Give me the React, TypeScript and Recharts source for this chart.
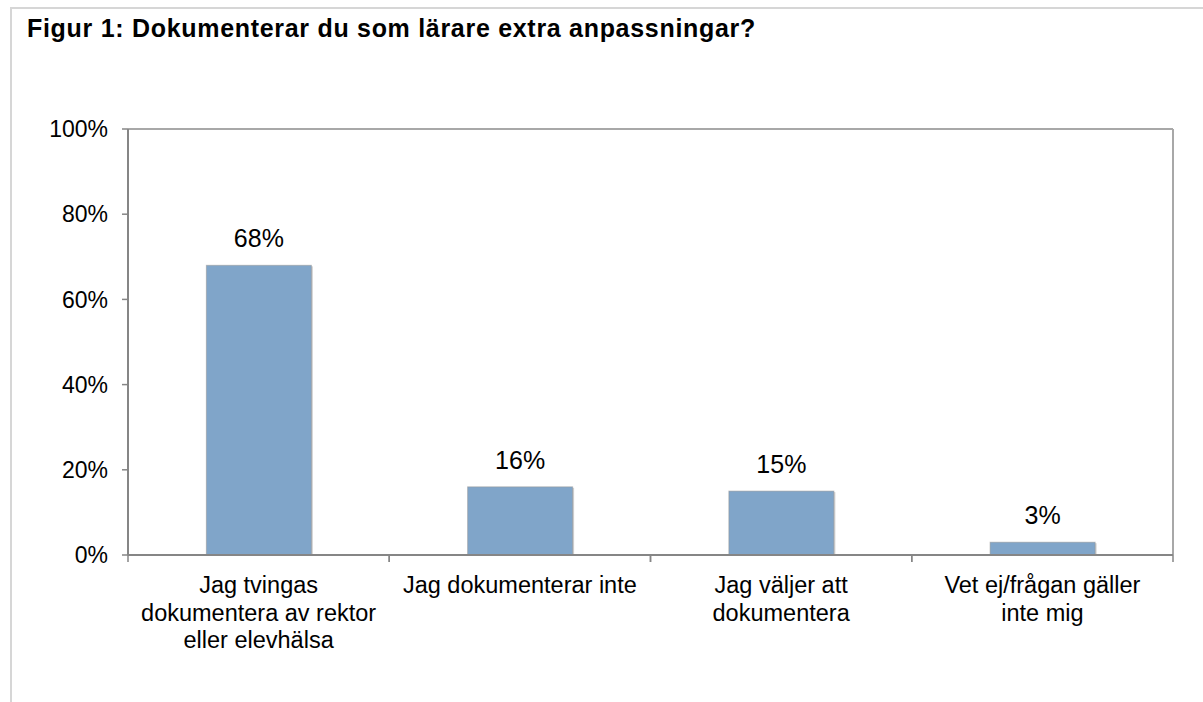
import { BarChart, Bar, XAxis, YAxis, LabelList, CartesianGrid } from "recharts";

const FONT = "'Liberation Sans', Arial, Helvetica, sans-serif";

const title = "Figur 1: Dokumenterar du som lärare extra anpassningar?";
const categories = [
  "Jag tvingas\ndokumentera av rektor\neller elevhälsa",
  "Jag dokumenterar inte",
  "Jag väljer att\ndokumentera",
  "Vet ej/frågan gäller\ninte mig",
];
const percentages = [68, 16, 15, 3];
const yTicks = [0, 20, 40, 60, 80, 100];

const data = categories.map((name, i) => ({ name, value: percentages[i] }));

// category label plus the tick marks on the band edges (Excel style)
function CategoryTick({ x, y, payload }: any) {
  const lines = String(payload.value).split("\n");
  const half = payload.offset || 0;
  return (
    <g>
      <line x1={x - half} x2={x - half} y1={y} y2={y + 7} stroke="#868686" strokeWidth={1.5} />
      <line x1={x + half} x2={x + half} y1={y} y2={y + 7} stroke="#868686" strokeWidth={1.5} />
      <text x={x} y={y} textAnchor="middle" fill="#000" fontSize={23.5} fontFamily={FONT}>
        {lines.map((line, i) => (
          <tspan key={i} x={x} dy={i === 0 ? 38 : 27.5}>
            {line}
          </tspan>
        ))}
      </text>
    </g>
  );
}

function ShadowBar(props: any) {
  const { x, y, width, height, fill } = props;
  if (!height || height <= 0) return null;
  return (
    <g>
      <rect x={x + 1.5} y={y + 1} width={width} height={height} fill="rgba(0,0,0,0.18)" />
      <rect x={x} y={y} width={width} height={height} fill={fill} stroke="rgba(150,150,150,0.55)" strokeWidth={1} />
    </g>
  );
}

export default function App() {
  return (
    <div style={{ position: "absolute", left: 0, top: 0, width: 1203, height: 702, background: "#fff", overflow: "hidden" }}>
      <div
        style={{
          position: "absolute",
          left: 10,
          top: 7,
          width: 1300,
          height: 800,
          borderLeft: "2px solid #d6d6d6",
          borderTop: "2px solid #d6d6d6",
        }}
      />
      <div
        style={{
          position: "absolute",
          left: 27,
          top: 16,
          fontFamily: FONT,
          fontWeight: "bold",
          fontSize: 25,
          letterSpacing: 0.7,
          lineHeight: "25px",
          color: "#000",
          whiteSpace: "nowrap",
        }}
      >
        {title}
      </div>
      <div style={{ position: "absolute", left: 0, top: 0 }}>
        <BarChart
          width={1203}
          height={702}
          data={data}
          margin={{ top: 129, right: 30, bottom: 47, left: 0 }}
          barCategoryGap="30%"
        >
          <CartesianGrid
            stroke="#a8a8a8"
            strokeWidth={2}
            horizontalCoordinatesGenerator={({ offset }: any) => [offset.top]}
            verticalCoordinatesGenerator={({ offset }: any) => [offset.left + offset.width]}
          />
          <XAxis
            dataKey="name"
            height={100}
            axisLine={{ stroke: "#868686", strokeWidth: 2 }}
            tickLine={false}
            tickSize={0}
            tickMargin={0}
            interval={0}
            tick={<CategoryTick />}
          />
          <YAxis
            domain={[0, 100]}
            ticks={yTicks}
            width={128}
            tickFormatter={(v: number) => `${v}%`}
            tick={{ fill: "#000", fontSize: 23, fontFamily: FONT }}
            tickSize={6}
            tickMargin={14}
            axisLine={{ stroke: "#868686", strokeWidth: 2 }}
            tickLine={{ stroke: "#868686", strokeWidth: 1.5 }}
          />
          <Bar dataKey="value" fill="#80a5c9" shape={<ShadowBar />} isAnimationActive={false}>
            <LabelList
              dataKey="value"
              position="top"
              offset={18}
              formatter={(v: any) => `${v}%`}
              fill="#000"
              fontSize={25}
              fontFamily={FONT}
            />
          </Bar>
        </BarChart>
      </div>
    </div>
  );
}
